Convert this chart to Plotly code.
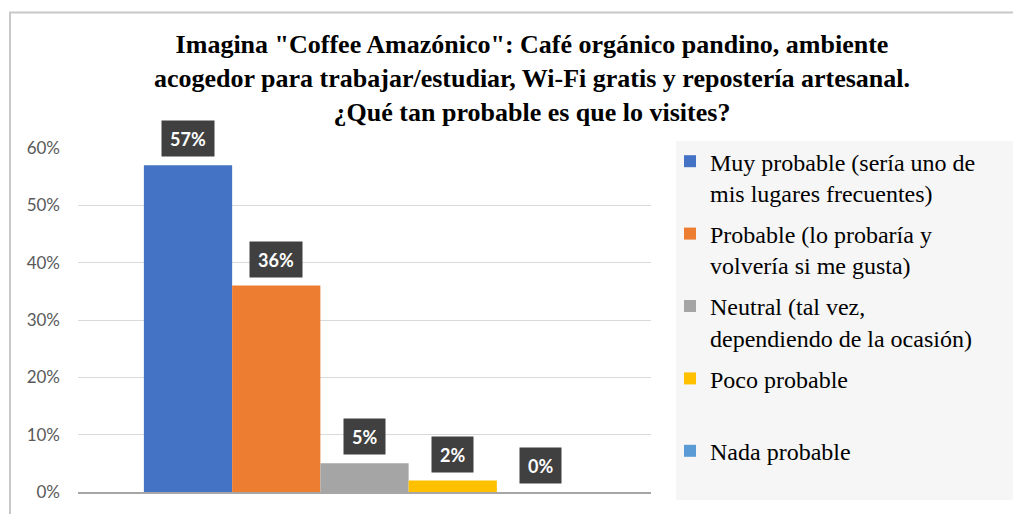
import plotly.graph_objects as go

categories = [
    "Muy probable (sería uno de<br>mis lugares frecuentes)",
    "Probable (lo probaría y<br>volvería si me gusta)",
    "Neutral (tal vez,<br>dependiendo de la ocasión)",
    "Poco probable<br> ",
    "Nada probable<br> ",
]
values = [0.57, 0.36, 0.05, 0.02, 0.00]
labels = ["57%", "36%", "5%", "2%", "0%"]
colors = ["#4472C4", "#ED7D31", "#A5A5A5", "#FFC000", "#5B9BD5"]
y_ticks = [0, 0.1, 0.2, 0.3, 0.4, 0.5, 0.6]

title_text = ("Imagina \"Coffee Amazónico\": Café orgánico pandino, ambiente<br>"
              "acogedor para trabajar/estudiar, Wi-Fi gratis y repostería artesanal.<br>"
              "¿Qué tan probable es que lo visites?")

W, H = 1013, 514
ML, MR, MT, MB = 78, 362, 148, 18
PW, PH = W - ML - MR, H - MT - MB

def px_x(p):
    return (p - ML) / PW

def px_y(p):
    return (H - MB - p) / PH

bargap = 0.23
n = len(values)
bw = (1 - bargap) / n

fig = go.Figure()
for i, (name, v, c) in enumerate(zip(categories, values, colors)):
    fig.add_trace(go.Bar(x=[0], y=[v], name=name, marker=dict(color=c, line=dict(width=0)),
                         legendgroup=str(i), hoverinfo="skip"))

annotations = []
for i, (v, lab) in enumerate(zip(values, labels)):
    xc = -(1 - bargap) / 2 + bw * (i + 0.5)
    annotations.append(dict(x=xc, y=v, xref="x", yref="y", text="<b>" + lab + "</b>",
                            showarrow=False, yanchor="bottom", yshift=8,
                            font=dict(family="Lato", size=18, color="white"),
                            bgcolor="#404040", borderpad=8, height=19))

shapes = [
    dict(type="rect", xref="paper", yref="paper", layer="below",
         x0=px_x(676), x1=px_x(W + 20), y0=px_y(504), y1=px_y(141),
         fillcolor="#f6f6f6", line=dict(width=0)),
    dict(type="rect", xref="paper", yref="paper", layer="above",
         x0=px_x(10), x1=px_x(W + 20), y0=px_y(H + 20), y1=px_y(11),
         fillcolor="rgba(0,0,0,0)", line=dict(color="#c8c8c8", width=2)),
]

fig.update_layout(
    width=W, height=H,
    margin=dict(l=ML, r=MR, t=MT, b=MB),
    paper_bgcolor="white", plot_bgcolor="white",
    barmode="group", bargap=bargap, bargroupgap=0,
    title=dict(text="<b>" + title_text + "</b>", x=532 / W, xanchor="center",
               y=1 - 53 / H, yanchor="top", yref="container",
               font=dict(family="Liberation Serif", size=26, color="black")),
    showlegend=True,
    legend=dict(x=px_x(670), y=px_y(139), xanchor="left", yanchor="top",
                bgcolor="rgba(0,0,0,0)", traceorder="grouped", valign="top",
                tracegroupgap=7, maxheight=420,
                font=dict(family="Liberation Serif", size=24, color="black")),
    xaxis=dict(range=[-0.5, 0.5], showticklabels=False, showgrid=False, zeroline=False,
               showline=True, linecolor="#a6a6a6", linewidth=2, fixedrange=True),
    yaxis=dict(range=[0, 0.6], tickvals=y_ticks, tickformat=".0%", showgrid=True,
               gridcolor="#d9d9d9", gridwidth=1, zeroline=False, showline=False,
               ticklabelstandoff=17,
               tickfont=dict(family="Lato", size=17, color="#595959")),
    annotations=annotations,
    shapes=shapes,
)

fig.write_html("out.html")
